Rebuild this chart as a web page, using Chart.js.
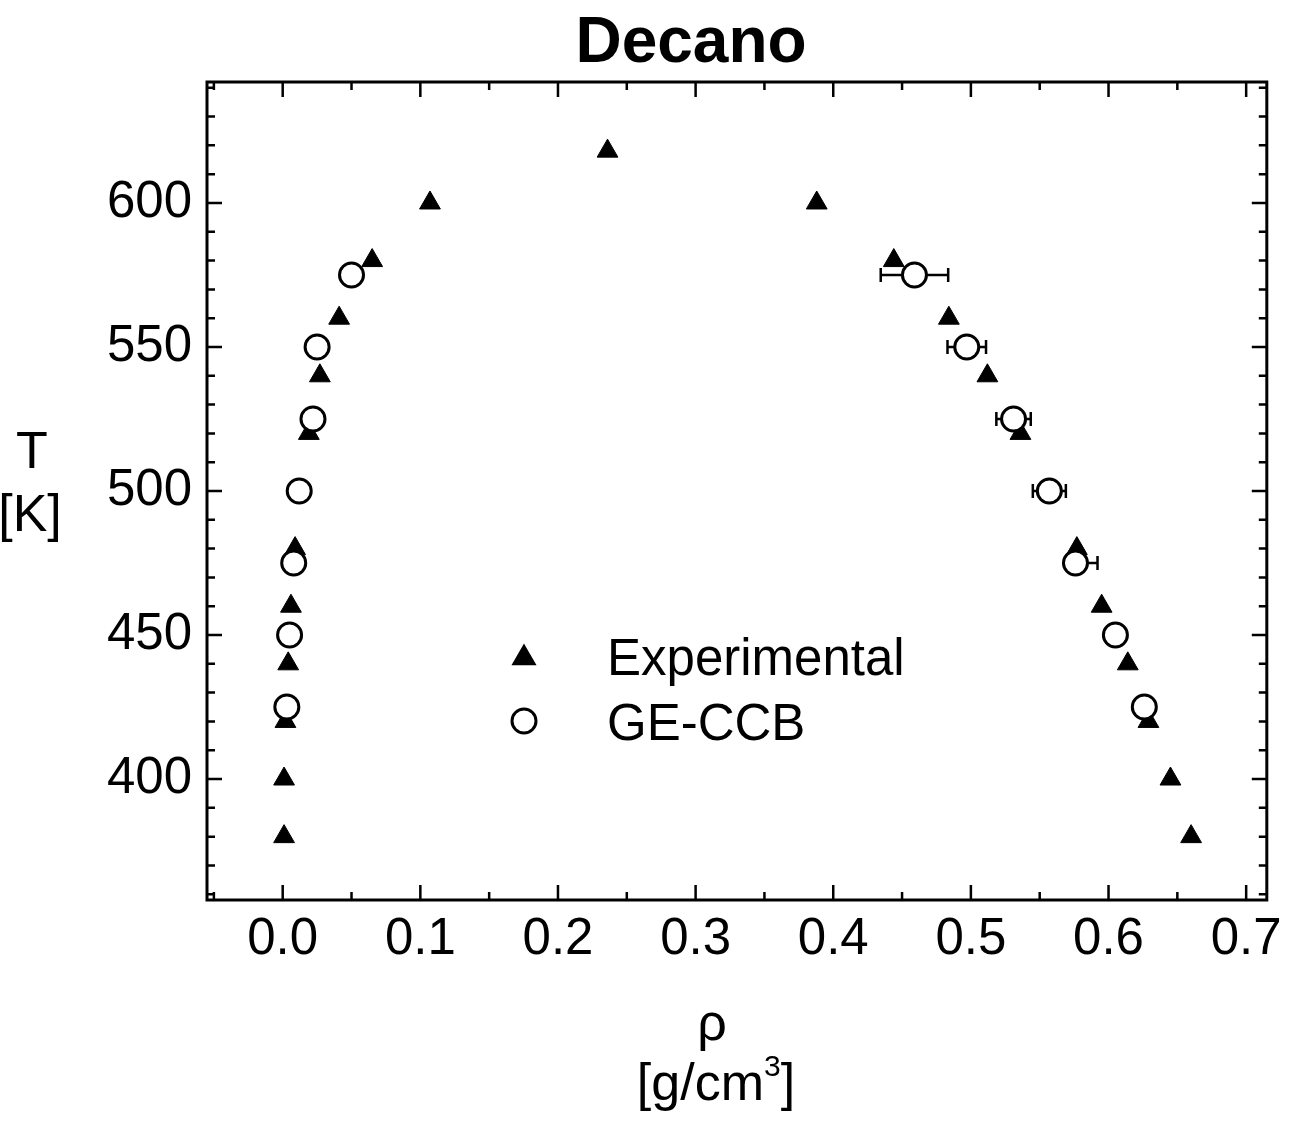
<!DOCTYPE html>
<html>
<head>
<meta charset="utf-8">
<title>Decano</title>
<script src="https://cdn.jsdelivr.net/npm/chart.js@4.4.0/dist/chart.umd.min.js"></script>
<style>
  html, body { margin: 0; padding: 0; background: #fff; }
</style>
</head>
<body>
<canvas id="myChart" width="1291" height="1124"></canvas>
<script>
// experimental points (density g/cm3, temperature K)
const expRho = [0.001, 0.001, 0.002, 0.004, 0.006, 0.009, 0.019, 0.027, 0.041, 0.065, 0.107, 0.236,
                0.388, 0.444, 0.484, 0.512, 0.536, 0.577, 0.595, 0.614, 0.629, 0.645, 0.660];
const expT = [380, 400, 420, 440, 460, 480, 520, 540, 560, 580, 600, 618,
              600, 580, 560, 540, 520, 480, 460, 440, 420, 400, 380];

// GE-CCB simulation points + horizontal error bars
const geRho = [0.003, 0.005, 0.008, 0.012, 0.022, 0.025, 0.050,
               0.459, 0.497, 0.531, 0.557, 0.576, 0.605, 0.626];
const geT = [425, 450, 475, 500, 525, 550, 575,
             575, 550, 525, 500, 475, 450, 425];
const geErrLo = [0, 0, 0, 0, 0, 0, 0, 0.0245, 0.014, 0.0125, 0.012, 0, 0, 0];
const geErrHi = [0, 0, 0, 0, 0, 0, 0, 0.0245, 0.014, 0.0125, 0.012, 0.016, 0, 0];

const xTicks = [0.0, 0.1, 0.2, 0.3, 0.4, 0.5, 0.6, 0.7];
const yTicks = [400, 450, 500, 550, 600];

const FONT = "'Liberation Sans', Arial, Helvetica, sans-serif";

const toPts = (xs, ys) => xs.map((v, i) => ({ x: v, y: ys[i] }));

// error bars go under the circles
const errorBars = {
  id: 'errorBars',
  beforeDatasetsDraw(chart) {
    const ctx = chart.ctx, xs = chart.scales.x, ys = chart.scales.y;
    ctx.save();
    ctx.strokeStyle = '#000';
    ctx.lineWidth = 2.5;
    geRho.forEach((r, i) => {
      if (!geErrLo[i] && !geErrHi[i]) return;
      const y = ys.getPixelForValue(geT[i]);
      const x1 = xs.getPixelForValue(r - geErrLo[i]);
      const x2 = xs.getPixelForValue(r + geErrHi[i]);
      ctx.beginPath();
      ctx.moveTo(x1, y); ctx.lineTo(x2, y);
      if (geErrLo[i]) { ctx.moveTo(x1, y - 7); ctx.lineTo(x1, y + 7); }
      if (geErrHi[i]) { ctx.moveTo(x2, y - 7); ctx.lineTo(x2, y + 7); }
      ctx.stroke();
    });
    ctx.restore();
  }
};

// frame with inward ticks, titles, legend
const decor = {
  id: 'decor',
  afterDraw(chart) {
    const ctx = chart.ctx, ca = chart.chartArea;
    const xs = chart.scales.x, ys = chart.scales.y;
    ctx.save();
    ctx.strokeStyle = '#000';
    ctx.fillStyle = '#000';
    ctx.lineWidth = 3;
    ctx.strokeRect(ca.left, ca.top, ca.right - ca.left, ca.bottom - ca.top);

    ctx.lineWidth = 2.5;
    ctx.beginPath();
    for (let k = -1; k <= 14; k++) {
      const v = k * 0.05;
      const px = xs.getPixelForValue(v);
      if (px < ca.left + 2 || px > ca.right - 2) continue;
      const len = (k % 2 === 0) ? 15 : 8;
      ctx.moveTo(px, ca.bottom); ctx.lineTo(px, ca.bottom - len);
      ctx.moveTo(px, ca.top); ctx.lineTo(px, ca.top + len);
    }
    for (let v = 360; v <= 640; v += 10) {
      const py = ys.getPixelForValue(v);
      const len = (v % 50 === 0) ? 15 : 8;
      ctx.moveTo(ca.left, py); ctx.lineTo(ca.left + len, py);
      ctx.moveTo(ca.right, py); ctx.lineTo(ca.right - len, py);
    }
    ctx.stroke();

    // title
    ctx.textAlign = 'center';
    ctx.textBaseline = 'alphabetic';
    ctx.font = 'bold 64px ' + FONT;
    ctx.fillText('Decano', 691, 62);

    // y axis title
    ctx.font = '52px ' + FONT;
    ctx.fillText('T', 32, 468);
    ctx.fillText('[K]', 30, 531);

    // x axis title
    ctx.fillText('\u03c1', 712, 1040);
    const a = '[g/cm', b = ']';
    const wa = ctx.measureText(a).width, wb = ctx.measureText(b).width;
    ctx.font = '30px ' + FONT;
    const ws = ctx.measureText('3').width;
    let x0 = 716 - (wa + ws + wb) / 2;
    ctx.textAlign = 'left';
    ctx.font = '52px ' + FONT;
    ctx.fillText(a, x0, 1100);
    ctx.font = '30px ' + FONT;
    ctx.fillText('3', x0 + wa, 1076);
    ctx.font = '52px ' + FONT;
    ctx.fillText(b, x0 + wa + ws, 1100);

    // legend
    const lx = 524;
    Chart.helpers.drawPoint(ctx, { pointStyle: 'triangle', radius: 12, borderWidth: 1 }, lx, 658);
    ctx.fillStyle = '#000';
    ctx.fill();
    ctx.beginPath();
    ctx.lineWidth = 3;
    ctx.arc(lx, 721, 12, 0, Math.PI * 2);
    ctx.fillStyle = '#fff';
    ctx.fill();
    ctx.stroke();
    ctx.fillStyle = '#000';
    ctx.font = '51px ' + FONT;
    ctx.textAlign = 'left';
    ctx.fillText('Experimental', 607, 675);
    ctx.fillText('GE-CCB', 607, 740);
    ctx.restore();
  }
};

const data = {
  datasets: [
    {
      label: 'GE-CCB',
      data: toPts(geRho, geT),
      pointStyle: 'circle',
      pointRadius: 12,
      pointBorderWidth: 3,
      pointBackgroundColor: '#fff',
      pointBorderColor: '#000',
      showLine: false,
      order: 0
    },
    {
      label: 'Experimental',
      data: toPts(expRho, expT),
      pointStyle: 'triangle',
      pointRadius: 12,
      pointBorderWidth: 1,
      pointBackgroundColor: '#000',
      pointBorderColor: '#000',
      showLine: false,
      order: 1
    }
  ]
};

const config = {
  type: 'scatter',
  data: data,
  options: {
    responsive: false,
    animation: false,
    devicePixelRatio: 1,
    layout: { padding: { top: 82, right: 20, left: 0, bottom: 0 } },
    plugins: { legend: { display: false }, tooltip: { enabled: false }, title: { display: false } },
    scales: {
      x: {
        type: 'linear',
        min: -0.055,
        max: 0.715,
        grid: { display: false, drawTicks: false },
        border: { display: false },
        afterBuildTicks: (s) => { s.ticks = xTicks.map(v => ({ value: v })); },
        afterFit: (s) => { s.height = 224; },
        ticks: {
          padding: 9,
          color: '#000',
          font: { family: FONT, size: 51 },
          callback: (v) => Number(v).toFixed(1)
        }
      },
      y: {
        type: 'linear',
        min: 358,
        max: 642,
        grid: { display: false, drawTicks: false },
        border: { display: false },
        afterBuildTicks: (s) => { s.ticks = yTicks.map(v => ({ value: v })); },
        afterFit: (s) => { s.width = 207; },
        ticks: {
          padding: 15,
          color: '#000',
          font: { family: FONT, size: 51 }
        }
      }
    }
  },
  plugins: [errorBars, decor]
};

const myChart = new Chart(document.getElementById('myChart'), config);
</script>
</body>
</html>
